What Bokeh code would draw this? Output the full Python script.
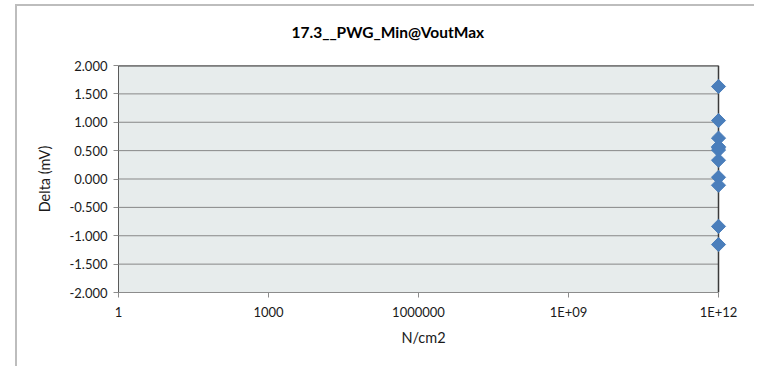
import math
from bokeh.plotting import figure
from bokeh.models import (ColumnDataSource, FixedTicker, NumeralTickFormatter,
                          BoxAnnotation, LogAxis)
from bokeh.embed import file_html
from bokeh.resources import INLINE

# ---- data ----
title_text = "17.3__PWG_Min@VoutMax"
x_label = "N/cm2"
y_label = "Delta (mV)"
x_ticks = [1, 1000, 1000000, 1e9, 1e12]
x_tick_labels = ["1", "1000", "1000000", "1E+09", "1E+12"]
y_ticks = [-2.0, -1.5, -1.0, -0.5, 0.0, 0.5, 1.0, 1.5, 2.0]
fluence = [1e12, 1e12, 1e12, 1e12, 1e12, 1e12, 1e12, 1e12, 1e12, 1e12, 1e12]
delta = [1.630, 1.030, 0.720, 0.570, 0.550, 0.510, 0.330, 0.030, -0.110, -0.835, -1.155]

FONT = "Lato"
TEXT = "#1a1a1a"

x_lo, x_hi = x_ticks[0], x_ticks[-1]
y_lo, y_hi = y_ticks[0], y_ticks[-1]

src = ColumnDataSource(dict(x=fluence, y=delta))

p = figure(
    width=739, height=362,
    title=title_text,
    x_axis_type="log",
    x_range=(x_lo, x_hi * 10 ** 0.2),
    y_range=(y_lo, y_hi),
    output_backend="svg",
    toolbar_location=None,
    min_border_left=101, min_border_right=28,
    min_border_top=59, min_border_bottom=76,
)
# outer chart-area border (left and top edges visible in the crop)
p.styles = {
    "margin-left": "17px",
    "margin-top": "6px",
    "background-color": "white",
    "box-shadow": "-2px -2px 0px 0px #BDBDBD",
}

p.title.align = "left"
p.title.offset = 173
p.title.text_font = FONT
p.title.text_font_size = "15.5px"
p.title.text_font_style = "bold"
p.title.text_color = "#000000"
p.title.standoff = 10

# invisible spacer axis between the title and the plot area
spacer = LogAxis(ticker=FixedTicker(ticks=[x_lo], minor_ticks=[]),
                 major_label_overrides={x_lo: " "},
                 major_tick_out=20, major_tick_in=0, major_label_standoff=0,
                 axis_line_color=None, major_tick_line_color=None,
                 minor_tick_line_color=None, major_label_text_font_size="2px",
                 major_label_text_color=None)
p.add_layout(spacer, "above")

p.background_fill_color = "white"
p.border_fill_color = "white"
p.outline_line_color = None

# plot-area fill
p.add_layout(BoxAnnotation(left=x_lo, right=x_hi, bottom=y_lo, top=y_hi,
                           fill_color="#E7ECEC", fill_alpha=1.0, line_color=None,
                           level="underlay"))

xa, ya = p.below[0], p.left[0]

# axes
xa.ticker = FixedTicker(ticks=x_ticks, minor_ticks=[])
xa.major_label_overrides = {t_: l for t_, l in zip(x_ticks, x_tick_labels)}
xa.bounds = (x_lo, x_hi)
ya.ticker = FixedTicker(ticks=y_ticks, minor_ticks=[])
ya.formatter = NumeralTickFormatter(format="0.000")

for ax in (xa, ya):
    ax.major_label_text_font = FONT
    ax.major_label_text_font_size = "13px"
    ax.major_label_text_color = TEXT
    ax.axis_label_text_font = FONT
    ax.axis_label_text_font_size = "14.5px"
    ax.axis_label_text_font_style = "normal"
    ax.axis_label_text_color = TEXT
    ax.major_tick_out = 5
    ax.major_tick_in = 0
    ax.minor_tick_out = 0
    ax.minor_tick_in = 0
    ax.major_tick_line_color = "#8C8C8C"

xa.axis_label = x_label
ya.axis_label = y_label
xa.axis_line_color = "#8C8C8C"
ya.axis_line_color = "#5A5A5A"
xa.major_label_standoff = 6
ya.major_label_standoff = 6
xa.axis_label_standoff = 6
ya.axis_label_standoff = 13

p.xgrid.grid_line_color = None
p.ygrid.grid_line_color = None

# horizontal gridlines across the plot area only
p.segment(x0=[x_lo] * len(y_ticks), x1=[x_hi] * len(y_ticks), y0=y_ticks, y1=y_ticks,
          line_color="#878787", line_width=1)
# dark top and right edges of the plot area
p.segment(x0=[x_lo], x1=[x_hi], y0=[y_hi], y1=[y_hi], line_color="#3A3A3A", line_width=2)
p.segment(x0=[x_hi], x1=[x_hi], y0=[y_lo], y1=[y_hi], line_color="#3A3A3A", line_width=1.5)

p.scatter("x", "y", source=src, marker="square", size=10, angle=math.pi / 4,
          fill_color="#4A7EBB", line_color="#4A7EBB")

open("out.html", "w").write(file_html(p, INLINE))
